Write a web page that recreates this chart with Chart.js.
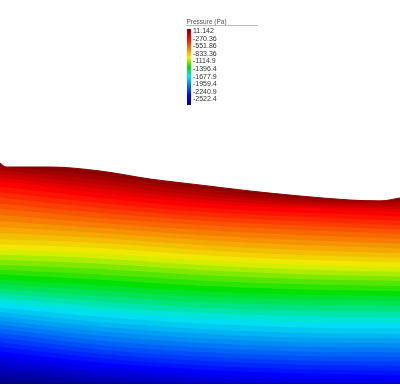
<!DOCTYPE html>
<html>
<head>
  <meta charset="utf-8">
  <title>Pressure field</title>
  <script src="https://cdn.jsdelivr.net/npm/chart.js"></script>
  <style>
    html, body { margin: 0; padding: 0; background: #fff; }
    .chart-container { position: relative; width: 400px; height: 387px; }
  </style>
</head>
<body>

  <div class="chart-container">
    <canvas id="pressureChart"></canvas>
  </div>

  <script>
    // colour bar ticks (Pa), top to bottom
    const legendTitle = 'Pressure (Pa)';
    const levels = [11.142, -270.36, -551.86, -833.36, -1114.9, -1396.4, -1677.9, -1959.4, -2240.9, -2522.4];

    // free surface: x (cm) and elevation above the base (cm)
    const surfaceX = [0, 6, 50, 100, 150, 200, 250, 300, 350, 380, 400];
    const surfaceZ = [221, 217, 217, 213, 205, 199, 193, 188, 184, 183, 186];

    // elevation of each labelled isobar at these stations (cm)
    const stations = [0, 100, 200, 300, 400];
    const iso270  = [203, 191, 181, 176, 172];
    const iso552  = [175, 166, 159, 154, 150];
    const iso833  = [145, 141, 134, 129, 126];
    const iso1115 = [119, 115, 109, 105, 103];
    const iso1396 = [95, 88, 82, 79, 78];
    const iso1678 = [72, 62, 55, 51, 50];
    const iso1959 = [51, 39, 32, 28, 27];
    const iso2241 = [28, 17, 10, 6, 4];
    const iso2522 = [0, -6, -13, -18, -21];

    const bandsPerInterval = 5;

    // jet-like colour map, t = 0 (min) .. 1 (max)
    const colorStops = [
      [0.000, [0, 0, 128]],
      [0.125, [0, 0, 255]],
      [0.375, [0, 230, 240]],
      [0.500, [0, 225, 0]],
      [0.625, [240, 240, 0]],
      [0.875, [255, 0, 0]],
      [1.000, [128, 0, 0]]
    ];
    const rgb = c => `rgb(${c.map(Math.round).join(',')})`;
    function colorAt(t) {
      t = Math.max(0, Math.min(1, t));
      for (let k = 1; k < colorStops.length; k++) {
        const [t1, c1] = colorStops[k];
        const [t0, c0] = colorStops[k - 1];
        if (t <= t1) {
          const f = (t - t0) / (t1 - t0);
          return rgb(c0.map((v, n) => v + f * (c1[n] - v)));
        }
      }
      return rgb(colorStops[colorStops.length - 1][1]);
    }

    const surfAtStations = stations.map(x => surfaceZ[surfaceX.indexOf(x)]);
    const isobars = [surfAtStations, iso270, iso552, iso833, iso1115, iso1396, iso1678, iso1959, iso2241, iso2522];
    const pMax = levels[0], pMin = levels[levels.length - 1];

    // filled contour bands: every band fills down to the base, deeper ones on top
    const datasets = [];
    let j = 0;
    for (let i = 0; i < levels.length - 1; i++) {
      for (let s = 0; s < bandsPerInterval; s++) {
        const f = s / bandsPerInterval;
        const p = levels[i] + (s + 0.5) / bandsPerInterval * (levels[i + 1] - levels[i]);
        const col = colorAt((p - pMin) / (pMax - pMin));
        const data = (j === 0)
          ? surfaceX.map((x, k) => ({ x, y: surfaceZ[k] }))
          : stations.map((x, k) => ({ x, y: isobars[i][k] + f * (isobars[i + 1][k] - isobars[i][k]) }));
        datasets.push({
          data,
          fill: 'start',
          backgroundColor: col,
          borderColor: col,
          borderWidth: j === 0 ? 1 : 0,
          pointRadius: 0,
          cubicInterpolationMode: 'monotone',
          order: -j
        });
        j++;
      }
    }

    const colorbarLegend = {
      id: 'colorbarLegend',
      afterDraw(chart) {
        const ctx = chart.ctx;
        ctx.save();
        ctx.fillStyle = '#555';
        ctx.font = '6.5px "Liberation Sans", Arial, sans-serif';
        ctx.textBaseline = 'alphabetic';
        ctx.fillText(legendTitle, 186.5, 23.5);
        ctx.strokeStyle = '#bbb';
        ctx.lineWidth = 1;
        ctx.beginPath();
        ctx.moveTo(186, 25.5);
        ctx.lineTo(258, 25.5);
        ctx.stroke();

        const top = 29, bottom = 105;
        const grad = ctx.createLinearGradient(0, top, 0, bottom);
        colorStops.forEach(([t, c]) => grad.addColorStop(1 - t, rgb(c)));
        ctx.fillStyle = grad;
        ctx.fillRect(187, top, 4, bottom - top);

        ctx.font = '7px "Liberation Sans", Arial, sans-serif';
        ctx.fillStyle = '#333';
        ctx.textBaseline = 'middle';
        levels.forEach((v, k) => {
          const y = 31 + k * (99.5 - 31) / (levels.length - 1);
          ctx.fillText(v.toPrecision(5), 193, y);
        });
        ctx.restore();
      }
    };

    new Chart(document.getElementById('pressureChart'), {
      type: 'line',
      data: { datasets },
      options: {
        responsive: true,
        maintainAspectRatio: false,
        animation: false,
        layout: { padding: { left: 0, right: 0, top: 0, bottom: 3 } },
        plugins: { legend: { display: false }, tooltip: { enabled: false } },
        scales: {
          x: { type: 'linear', min: 0, max: 400, display: false },
          y: { type: 'linear', min: 0, max: 384, display: false }
        }
      },
      plugins: [colorbarLegend]
    });
  </script>

</body>
</html>
